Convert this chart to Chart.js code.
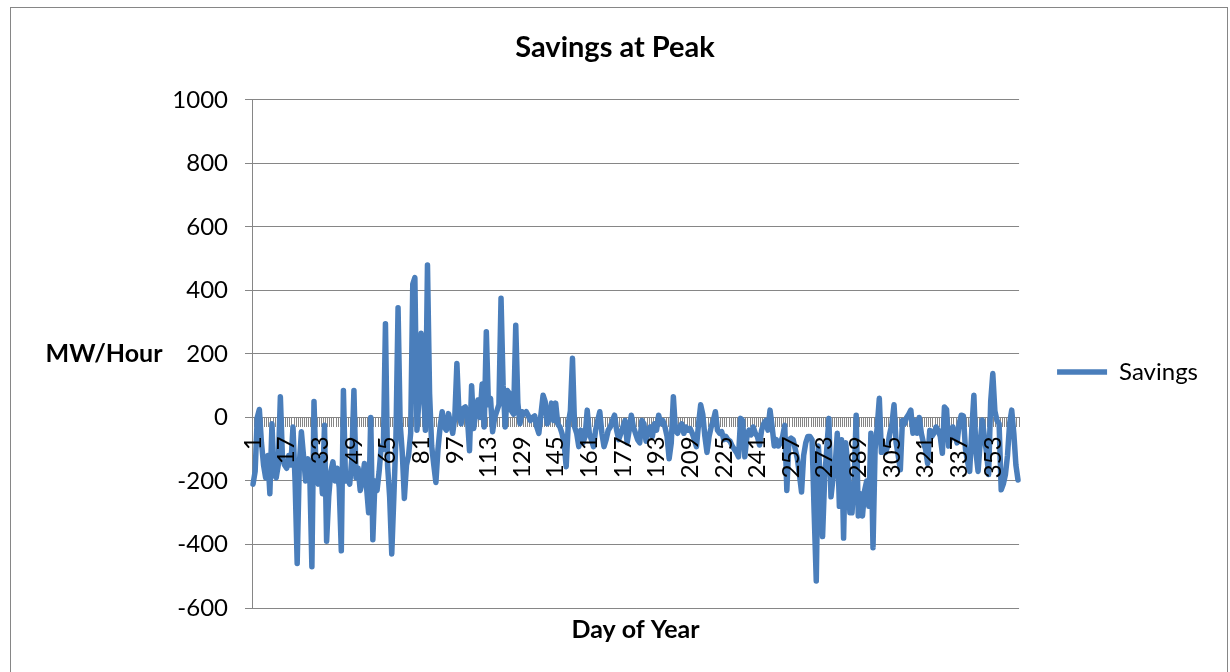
<!DOCTYPE html>
<html>
<head>
<meta charset="utf-8">
<script src="https://cdn.jsdelivr.net/npm/chart.js@4.4.1/dist/chart.umd.min.js"></script>
<style>
  body { margin: 0; background: #fff; }
  #wrap { position: relative; width: 1230px; height: 672px; overflow: hidden; }
  #frame { position: absolute; left: 10px; top: 7px; width: 1216px; height: 700px; border: 1px solid #868686; }
  canvas { position: absolute; left: 0; top: 0; }
</style>
</head>
<body>
<div id="wrap">
  <div id="frame"></div>
  <canvas id="savingsChart" width="1230" height="672"></canvas>
</div>
<script>
// chart texts
const chartTitle = "Savings at Peak";
const xTitle = "Day of Year";
const yTitle = "MW/Hour";
const seriesName = "Savings";

// y axis range and step
const yMin = -600;
const yMax = 1000;
const yStep = 200;

// x axis: day numbers 1..365, labelled every 16th day
const labelEvery = 16;
const days = [];
for (let d = 1; d <= 365; d++) days.push(String(d));

// savings per day (MW/Hour)
const savings = [
    -210, -170, 0, 25, -80, -150, -190, -120, -240, -20,      // 1
    -180, -190, -150, 65, -130, -150, -160, -120, -150, -30,  // 11
    -200, -460, -150, -45, -120, -200, -130, -180, -470, 50,  // 21
    -170, -210, -130, -240, -25, -390, -250, -170, -140, -200, // 31
    -160, -220, -420, 85, -200, -190, -210, -130, 85, -190,   // 41
    -160, -230, -200, -145, -220, -300, 0, -385, -200, -230,  // 51
    -170, -90, -100, 295, -150, -250, -430, -250, -60, 345,   // 61
    -20, -110, -255, -150, -120, -50, 420, 440, -40, 60,      // 71
    265, 110, -40, 480, 75, -90, -150, -205, -100, -30,       // 81
    18, -30, -40, 12, -20, -50, 0, 170, 10, -20,              // 91
    28, 33, 0, -105, 100, -35, 20, 55, 0, 105,                // 101
    -30, 270, 40, 60, -45, 0, 20, 40, 375, 100,               // 111
    -30, 85, 75, 20, 10, 290, 45, -20, 18, 10,                // 121
    18, 5, -10, 0, 5, -30, -50, 10, 70, 50,                   // 131
    -20, 0, 45, -10, 45, -20, -30, -50, -80, -155,            // 141
    -20, 20, 186, -30, -50, -92, -40, -80, -60, 23,           // 151
    -50, -70, -92, -40, -10, 18, -50, -92, -70, -40,          // 161
    -30, -10, 7, -40, -70, -50, -30, -10, -80, -40,           // 171
    7, -30, -50, -70, -80, -10, -20, -75, -40, -30,           // 181
    -60, -20, -40, 7, -20, -10, -30, -60, -130, -80,          // 191
    65, -40, -50, -30, -20, -50, -30, -40, -35, -50,          // 201
    -70, -92, -20, 40, 10, -60, -110, -60, -30, -10,          // 211
    18, -40, -50, -45, -70, -60, -70, -75, -90, -100,         // 221
    -110, -124, -3, -10, -124, -60, -40, -55, -30, -50,       // 231
    -60, -87, -40, -20, -10, -40, 23, -30, -90, -70,          // 241
    -90, -80, -60, -25, -230, -70, -65, -70, -100, -130,      // 251
    -180, -235, -120, -80, -60, -60, -70, -300, -515, -90,    // 261
    -200, -375, -190, -100, -3, -250, -190, -150, -50, -280,  // 271
    -70, -380, -80, -150, -300, -300, -200, 7, -310, -240,    // 281
    -310, -230, -200, -280, -50, -410, -100, -30, 60, -110,   // 291
    -100, -110, -90, -50, -20, 40, -80, -120, -165, -10,      // 301
    -20, 0, 10, 23, -50, -10, -50, 0, -50, -80,               // 311
    -100, -145, -40, -60, -50, -30, -40, -60, -113, 33,       // 321
    25, -90, -60, -30, -50, -80, -20, 7, 5, -100,             // 331
    -140, -170, -40, 70, -110, -170, -80, -8, -60, -110,      // 341
    -180, 50, 138, 20, -10, -20, -228, -210, -180, -120,      // 351
    -20, 23, -50, -150, -197                                  // 361
];

Chart.defaults.font.family = "Lato";
Chart.defaults.color = "#000";

const gridGrey = "#868686";
const lineBlue = "#4a7ebb";

// horizontal "MW/Hour" label left of the plot
const yTitlePlugin = {
    id: "yTitle",
    afterDraw(chart) {
        const { ctx, chartArea } = chart;
        ctx.save();
        ctx.font = "bold 25px Lato";
        ctx.fillStyle = "#000";
        ctx.textAlign = "center";
        ctx.textBaseline = "middle";
        ctx.fillText(yTitle, 104, (chartArea.top + chartArea.bottom) / 2);
        ctx.restore();
    }
};

new Chart(document.getElementById("savingsChart"), {
    type: "line",
    data: {
        labels: days,
        datasets: [{
            label: seriesName,
            data: savings,
            borderColor: lineBlue,
            backgroundColor: lineBlue,
            borderWidth: 5.5,
            borderJoinStyle: "round",
            borderCapStyle: "round",
            pointRadius: 0,
            tension: 0
        }]
    },
    options: {
        responsive: false,
        animation: false,
        layout: { padding: { left: 22, right: 22, top: 0, bottom: 0 } },
        plugins: {
            title: {
                display: true,
                text: chartTitle,
                font: { size: 29, weight: "bold" },
                padding: { top: 30, bottom: 35 }
            },
            subtitle: {
                display: true,
                text: xTitle,
                position: "bottom",
                fullSize: false,
                font: { size: 25, weight: "bold" },
                padding: { top: 7, bottom: 27 }
            },
            legend: {
                position: "right",
                align: "start",
                // empty title only pushes the entry down to mid height
                title: { display: true, text: " ", font: { size: 10 }, padding: { top: 150, bottom: 160 } },
                labels: {
                    usePointStyle: true,
                    pointStyle: "line",
                    pointStyleWidth: 50,
                    padding: 38,
                    font: { size: 24 }
                }
            },
            tooltip: { enabled: false }
        },
        scales: {
            x: {
                position: { y: 0 },
                offset: true,
                grid: {
                    offset: true,
                    drawOnChartArea: false,
                    drawTicks: true,
                    tickLength: 9,
                    color: gridGrey
                },
                border: { color: gridGrey, width: 1 },
                ticks: {
                    z: 1,
                    autoSkip: false,
                    minRotation: 90,
                    maxRotation: 90,
                    padding: 10,
                    font: { size: 24 },
                    callback: function (val, i) {
                        return i % labelEvery === 0 ? days[i] : "";
                    }
                }
            },
            y: {
                min: yMin,
                max: yMax,
                afterFit: function (scale) { scale.width = 230; },
                grid: { color: gridGrey, tickLength: 7 },
                border: { color: gridGrey, width: 1 },
                ticks: {
                    stepSize: yStep,
                    padding: 17,
                    font: { size: 24 },
                    callback: function (v) { return String(v); }
                }
            }
        }
    },
    plugins: [yTitlePlugin]
});
</script>
</body>
</html>
